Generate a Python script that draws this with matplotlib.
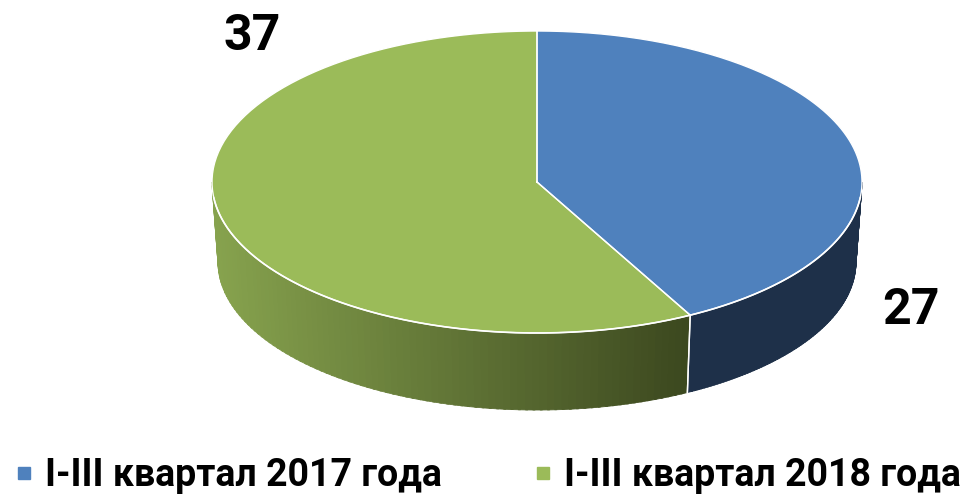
import numpy as np
import matplotlib
matplotlib.use("Agg")
import matplotlib.pyplot as plt
from matplotlib.lines import Line2D
from matplotlib.colors import to_rgb

plt.rcParams['font.family'] = ['Roboto', 'DejaVu Sans']

labels = ['I-III квартал 2017 года', 'I-III квартал 2018 года']
values = [27, 37]
top_colors = ['#4F81BD', '#9BBB59']
side_light = ['#22395A', '#87A34E']
side_dark = ['#1E3049', '#3C481F']

# layout of the fake 3d pie, in pixels
cx, cy, rx, ry = 537, 182, 325, 151
bcy, brx, bry = 262, 319, 148   # bottom ellipse

fig = plt.figure(figsize=(9.63, 4.99), dpi=100)
ax = fig.add_axes([0, 0, 1, 1])
ax.set_xlim(0, 963)
ax.set_ylim(499, 0)
ax.axis('off')


def ell(t, bottom=False):
    t = np.radians(t)
    if bottom:
        return cx + brx * np.cos(t), bcy - bry * np.sin(t)
    return cx + rx * np.cos(t), cy - ry * np.sin(t)


# slices go clockwise from 12 o'clock
fracs = np.array(values) / sum(values) * 360
starts = 90 - np.concatenate([[0], np.cumsum(fracs)[:-1]])
ends = starts - fracs

# side walls (front half only: angles 180..360)
for i in range(len(values)):
    a0, a1 = ends[i] % 360, starts[i] % 360
    if a1 <= a0:
        a1 += 360
    lo, hi = max(a0, 180), min(a1, 360)
    if hi <= lo:
        lo, hi = max(a0 - 360, 180), min(a1 - 360, 360)
    if hi <= lo:
        continue
    c0, c1 = np.array(to_rgb(side_light[i])), np.array(to_rgb(side_dark[i]))
    x_left, x_right = ell(180)[0], ell(298)[0]
    n = 90
    edges = np.linspace(lo, hi, n + 1)
    for k in range(n):
        tt = np.linspace(edges[k], min(edges[k + 1] + 0.4, hi), 4)
        xt, yt = ell(tt)
        xb, yb = ell(tt, bottom=True)
        xs = np.concatenate([xt, xb[::-1]])
        ys = np.concatenate([yt, yb[::-1]])
        f = np.clip((xt.mean() - x_left) / (x_right - x_left), 0, 1)
        col = c0 * (1 - f) + c1 * f
        ax.fill(xs, ys, color=col, lw=0.6, ec=col)
    # divider lines on the wall
    for a in (lo, hi):
        if 180 < a < 360:
            x0, y0 = ell(a)
            x1, y1 = ell(a, bottom=True)
            ax.plot([x0, x1], [y0, y1], color='white', lw=1)

# top face
for i in range(len(values)):
    tt = np.linspace(starts[i], ends[i], 200)
    x, y = ell(tt)
    xs = np.concatenate([[cx], x, [cx]])
    ys = np.concatenate([[cy], y, [cy]])
    ax.fill(xs, ys, color=top_colors[i], lw=0)
    ax.plot(xs, ys, color='white', lw=1)

# white rim on the front edge
x, y = ell(np.linspace(186, 354, 200))
ax.plot(x, y, color='white', lw=1.2)

# value labels
ax.text(911, 310, str(values[0]), fontsize=36, fontweight='bold', ha='center', va='center')
ax.text(252, 36, str(values[1]), fontsize=36, fontweight='bold', ha='center', va='center')

handles = [Line2D([], [], marker='s', linestyle='none', markersize=8, color=c) for c in top_colors]
fig.legend(handles, labels, loc='center left', ncol=2, frameon=False,
           bbox_to_anchor=(-0.006, 1 - 476 / 499), prop={'size': 27, 'weight': 'bold'},
           handletextpad=0.15, columnspacing=2.3, handlelength=0.8, borderaxespad=0)

fig.savefig('out.png', dpi=100)
